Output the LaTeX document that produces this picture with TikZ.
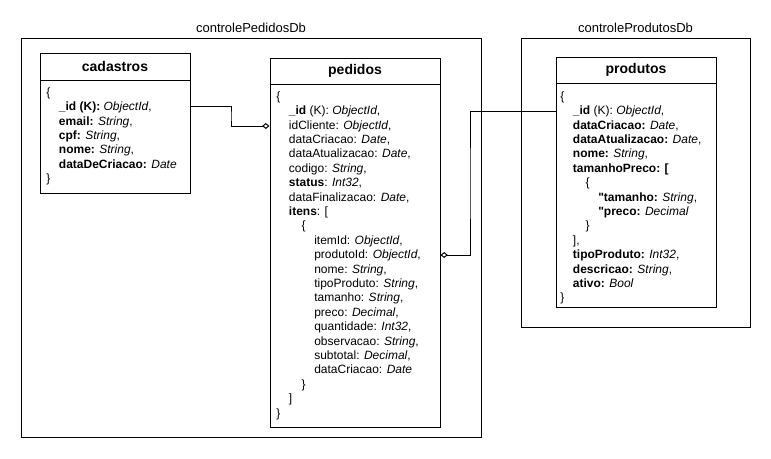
\documentclass[tikz,border=0pt]{standalone}
\usepackage{fontspec}
\setmainfont{Liberation Sans}
\usepackage{tikz}
\usetikzlibrary{arrows.meta}

\tikzset{
	db/.style={draw, line width=0.75pt, inner sep=0},
	tbl/.style={draw, line width=0.75pt, inner sep=0},
	title/.style={font=\fontsize{10.5}{12.6}\selectfont\bfseries},
	dbname/.style={font=\fontsize{9.75}{11.7}\selectfont},
	fields/.style={anchor=north west, inner sep=0, align=left, font=\fontsize{9}{10.8}\selectfont},
	rel/.style={line width=0.75pt, -{Diamond[open,length=5.5pt,width=4.5pt]}},
}
\newcommand{\ind}{\hspace*{9.5pt}}
\newcommand{\qt}{\XeTeXglyph\XeTeXglyphindex "quotedbl" \relax}

\begin{document}
\begin{tikzpicture}[x=0.75pt, y=-0.75pt]
	\useasboundingbox (0,0) rectangle (771,458);
	% databases
	\node (pedidosDb) at (251,237.5) [db, minimum width=345pt, minimum height=299.25pt] {};
	\node (produtosDb) at (635.5,182.5) [db, minimum width=171.75pt, minimum height=216.75pt] {};
	\node (pedidosDbName) at (251,28) [dbname] {controlePedidosDb};
	\node (produtosDbName) at (635.5,28) [dbname] {controleProdutosDb};
	% collections
	\node (cadastros) at (115,123) [tbl, minimum width=112.5pt, minimum height=105pt] {};
	\node (pedidos) at (355,242.5) [tbl, minimum width=127.5pt, minimum height=276.75pt] {};
	\node (produtos) at (636,182) [tbl, minimum width=120pt, minimum height=187.5pt] {};
		\node (cadastrosTitle) at (115,66.5) [title] {cadastros};
		\node (pedidosTitle) at (355,71) [title] {pedidos};
		\node (produtosTitle) at (636,70) [title] {produtos};
	\draw[line width=0.75pt] (cadastros.west |- 0,80) -- (cadastros.east |- 0,80);
	\draw[line width=0.75pt] (pedidos.west |- 0,84) -- (pedidos.east |- 0,84);
	\draw[line width=0.75pt] (produtos.west |- 0,83) -- (produtos.east |- 0,83);
	% fields
	\node (cadastrosFields) at (46,86) [fields] {\strut\{\\
		\ind\textbf{\_id (K):} \textit{ObjectId},\\
		\ind\textbf{email:} \textit{String},\\
		\ind\textbf{cpf:} \textit{String},\\
		\ind\textbf{nome:} \textit{String},\\
		\ind\textbf{dataDeCriacao:} \textit{Date}\\
		\}};
	\node (pedidosFields) at (276,90) [fields] {\strut\{\\
		\ind\textbf{\_id} (K): \textit{ObjectId},\\
		\ind idCliente: \textit{ObjectId},\\
		\ind dataCriacao: \textit{Date},\\
		\ind dataAtualizacao: \textit{Date},\\
		\ind codigo: \textit{String},\\
		\ind\textbf{status}: \textit{Int32},\\
		\ind dataFinalizacao: \textit{Date},\\
		\ind\textbf{itens}: [\\
		\ind\ind\{\\
		\ind\ind\ind itemId: \textit{ObjectId},\\
		\ind\ind\ind produtoId: \textit{ObjectId},\\
		\ind\ind\ind nome: \textit{String},\\
		\ind\ind\ind tipoProduto: \textit{String},\\
		\ind\ind\ind tamanho: \textit{String},\\
		\ind\ind\ind preco: \textit{Decimal},\\
		\ind\ind\ind quantidade: \textit{Int32},\\
		\ind\ind\ind observacao: \textit{String},\\
		\ind\ind\ind subtotal: \textit{Decimal},\\
		\ind\ind\ind dataCriacao: \textit{Date}\\
		\ind\ind\}\\
		\ind]\\
		\}};
	\node (produtosFields) at (560,90) [fields] {\strut\{\\
		\ind\textbf{\_id} (K): \textit{ObjectId},\\
		\ind\textbf{dataCriacao:} \textit{Date},\\
		\ind\textbf{dataAtualizacao:} \textit{Date},\\
		\ind\textbf{nome:} \textit{String},\\
		\ind\textbf{tamanhoPreco: [}\\
		\ind\ind\{\\
		\ind\ind\ind\textbf{\qt tamanho:} \textit{String},\\
		\ind\ind\ind\textbf{\qt preco:} \textit{Decimal}\\
		\ind\ind\}\\
		\ind],\\
		\ind\textbf{tipoProduto:} \textit{Int32},\\
		\ind\textbf{descricao:} \textit{String},\\
		\ind\textbf{ativo:} \textit{Bool}\\
		\}};
	% references
	\draw[rel] (cadastros.east |- 0,106) -| (231,116) |- (pedidos.west |- 0,126);
	\draw[rel] (produtos.west |- 0,111) -| (470,183) |- (pedidos.east |- 0,255);
\end{tikzpicture}
\end{document}
